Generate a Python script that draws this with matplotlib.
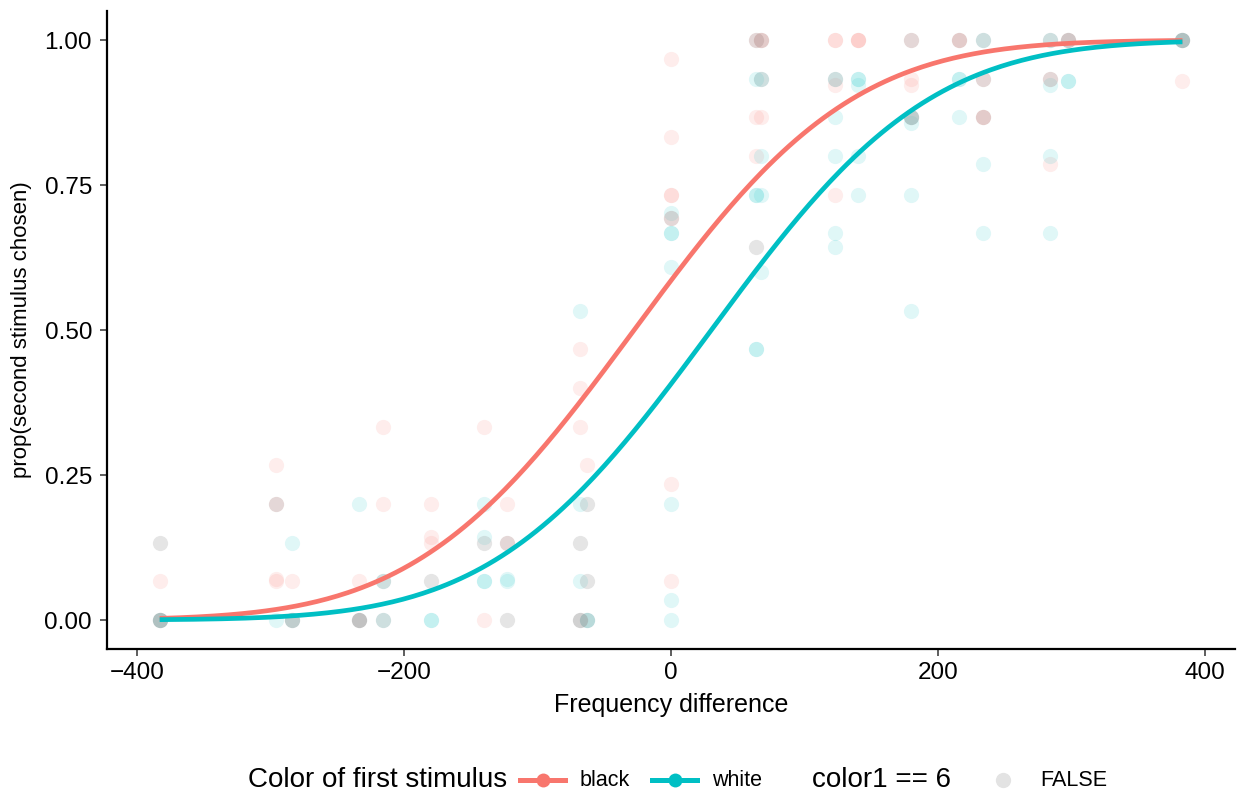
import numpy as np
import matplotlib
matplotlib.use("Agg")
import matplotlib.pyplot as plt
from matplotlib.lines import Line2D
from math import erf

plt.rcParams["font.family"] = ["Liberation Sans", "DejaVu Sans"]

# observed proportions, one list per colour group (repeats = overlapping points)
black_x = [-383, -383, -296, -296, -296, -296, -284, -234, -216, -216,
           -180, -180, -180, -140, -140, -123, -123, -68, -68, -68, -63,
           0, 0, 0, 0, 0, 0, 0, 64, 64, 64, 67, 67, 67,
           123, 123, 123, 123, 140, 140, 140, 180, 180, 180, 216, 216,
           234, 234, 234, 284, 284, 297, 383, 383]
black_y = [0.067, 0.0, 0.267, 0.2, 0.067, 0.071, 0.067, 0.067, 0.333, 0.2,
           0.2, 0.143, 0.133, 0.333, 0.0, 0.2, 0.133, 0.467, 0.4, 0.333, 0.267,
           0.967, 0.833, 0.733, 0.733, 0.694, 0.234, 0.067, 1.0, 0.867, 0.8, 1.0, 1.0, 0.867,
           1.0, 1.0, 0.733, 0.923, 1.0, 1.0, 1.0, 1.0, 0.933, 0.923, 1.0, 1.0,
           0.933, 0.867, 0.867, 0.933, 0.786, 1.0, 1.0, 0.929]

white_x = [-383, -383, -296, -284, -284, -234, -216, -216, -180, -180,
           -140, -140, -140, -140, -123, -123, -68, -68, -68, -63, -63,
           0, 0, 0, 0, 0, 0, 0, 64, 64, 64, 64, 64, 67, 67, 67, 67,
           123, 123, 123, 123, 123, 140, 140, 140, 140, 140, 180, 180, 180, 180,
           216, 216, 216, 234, 234, 234, 284, 284, 284, 284, 297, 297, 383, 383]
white_y = [0.0, 0.0, 0.0, 0.133, 0.0, 0.2, 0.067, 0.0, 0.0, 0.0,
           0.2, 0.143, 0.067, 0.067, 0.067, 0.071, 0.533, 0.2, 0.067, 0.0, 0.0,
           0.702, 0.667, 0.667, 0.608, 0.2, 0.034, 0.0, 0.933, 0.733, 0.733, 0.467, 0.467,
           0.933, 0.8, 0.733, 0.6,
           0.933, 0.867, 0.8, 0.667, 0.643, 0.933, 0.933, 0.8, 0.733, 0.923,
           0.867, 0.857, 0.733, 0.533,
           0.933, 0.933, 0.867, 1.0, 0.786, 0.667, 0.923, 0.8, 0.667, 1.0,
           0.929, 0.929, 1.0, 1.0]

grey_x = [-383, -383, -383, -296, -284, -284, -234, -234, -234, -216, -216,
          -180, -140, -123, -123, -68, -68, -68, -63, -63, -63,
          0, 64, 64, 67, 67, 123, 180, 180, 180, 216,
          234, 234, 234, 284, 284, 297, 297, 383, 383]
grey_y = [0.133, 0.0, 0.0, 0.2, 0.0, 0.0, 0.0, 0.0, 0.0, 0.067, 0.0,
          0.067, 0.133, 0.133, 0.0, 0.133, 0.0, 0.0, 0.2, 0.067, 0.0,
          0.694, 1.0, 0.643, 1.0, 0.933, 0.933, 1.0, 0.867, 0.867, 1.0,
          1.0, 0.933, 0.867, 1.0, 0.933, 1.0, 1.0, 1.0, 1.0]

# probit fit (intercept, slope) for each colour of first stimulus
fit_black = (0.216, 0.0078)
fit_white = (-0.235, 0.0078)

RED = "#F8766D"
TEAL = "#00BFC4"
GREY = "#999999"

norm_cdf = np.vectorize(lambda z: 0.5 * (1 + erf(z / np.sqrt(2))))

fig = plt.figure(figsize=(12.39, 7.94), dpi=100)
ax = fig.add_axes([0.0864, 0.1826, 0.9104, 0.8034])

ax.scatter(black_x, black_y, s=120, color=RED, alpha=0.13, linewidths=0, zorder=2)
ax.scatter(white_x, white_y, s=120, color=TEAL, alpha=0.12, linewidths=0, zorder=2)
ax.scatter(grey_x, grey_y, s=120, color=GREY, alpha=0.25, linewidths=0, zorder=2)

xs = np.linspace(-383, 383, 300)
for (b0, b1), col in [(fit_black, RED), (fit_white, TEAL)]:
    ax.plot(xs, norm_cdf(b0 + b1 * xs), color=col, lw=3.4, zorder=3,
            solid_capstyle="butt")

ax.set_xlim(-422.4, 422.4)
ax.set_ylim(-0.05, 1.05)
ax.set_xticks([-400, -200, 0, 200, 400])
ax.set_xticklabels(["\u2212400", "\u2212200", "0", "200", "400"])
ax.set_yticks([0, 0.25, 0.5, 0.75, 1.0])
ax.set_yticklabels(["0.00", "0.25", "0.50", "0.75", "1.00"])
ax.tick_params(labelsize=17.5, length=5, width=1.1, color="#333333")
ax.tick_params(axis="y", pad=5.8)
ax.tick_params(axis="x", pad=4.5)
for side in ["top", "right"]:
    ax.spines[side].set_visible(False)
for side in ["left", "bottom"]:
    ax.spines[side].set_linewidth(1.6)

ax.set_xlabel("Frequency difference", fontsize=18)
ax.set_ylabel("prop(second stimulus chosen)", fontsize=16)
ax.xaxis.set_label_coords(0.5, -0.088)
ax.xaxis.label.set_va("center")
ax.yaxis.set_label_coords(-0.0755, 0.5)
ax.yaxis.label.set_va("center")

# legend at the bottom, drawn by hand
W, H = 1239, 794
ly = 1 - 780 / H


def fx(px):
    return px / W


fig.text(fx(248), ly, "Color of first stimulus", fontsize=20, va="center", ha="left")
for x0, col, lab in [(520, RED, "black"), (652, TEAL, "white")]:
    fig.add_artist(Line2D([fx(x0), fx(x0 + 45)], [ly, ly], color=col, lw=3.6,
                          transform=fig.transFigure))
    fig.add_artist(Line2D([fx(x0 + 22.5)], [ly], marker="o", markersize=10,
                          color=col, markeredgewidth=0, transform=fig.transFigure))
    fig.text(fx(x0 + 60), ly, lab, fontsize=15.5, va="center", ha="left")
fig.text(fx(812), ly, "color1 == 6", fontsize=20, va="center", ha="left")
fig.add_artist(Line2D([fx(1003)], [ly], marker="o", markersize=11, color="#E3E3E3",
                      markeredgewidth=0, transform=fig.transFigure))
fig.text(fx(1040), ly, "FALSE", fontsize=15.5, va="center", ha="left")

fig.savefig("out.png", dpi=100)
